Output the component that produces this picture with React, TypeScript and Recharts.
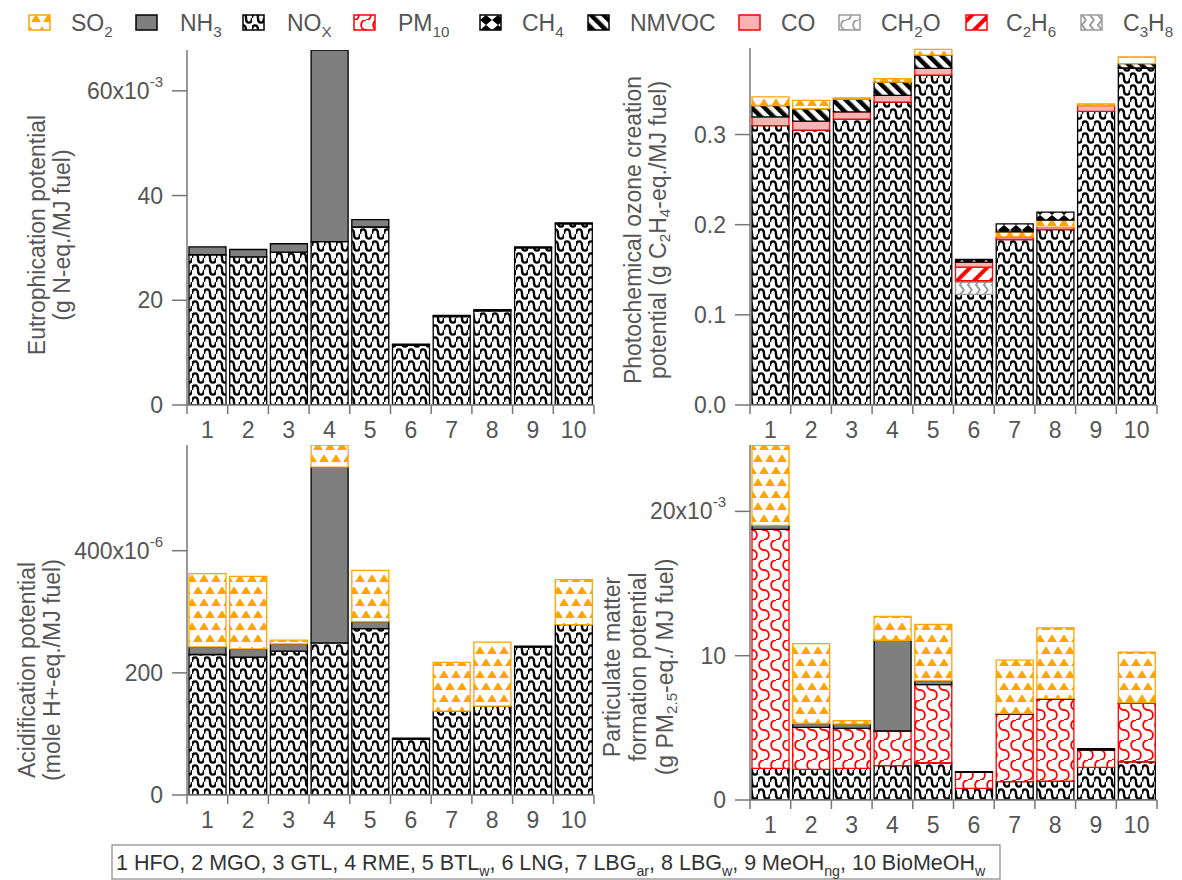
import React from 'react'
import { BarChart, Bar, XAxis, YAxis } from 'recharts'

const fuels = ['1', '2', '3', '4', '5', '6', '7', '8', '9', '10']

// eutrophication, 10^-3 g N-eq./MJ fuel
const eutNOx = [28.7, 28.3, 29.2, 31.2, 34.0, 11.4, 16.9, 18.0, 30.0, 34.6]
const eutNH3 = [1.5, 1.4, 1.6, 36.6, 1.4, 0.2, 0.2, 0.2, 0.2, 0.2]

// photochemical ozone creation, g C2H4-eq./MJ fuel
const pocpNOx = [0.31, 0.305, 0.317, 0.336, 0.366, 0.1226, 0.1836, 0.1947, 0.3258, 0.3738]
const pocpC3H8 = [0, 0, 0, 0, 0, 0.0137, 0, 0, 0, 0]
const pocpCH2O = [0, 0, 0, 0, 0, 0.0015, 0, 0, 0, 0]
const pocpC2H6 = [0, 0, 0, 0, 0, 0.0151, 0, 0, 0, 0]
const pocpCO = [0.0096, 0.0099, 0.0081, 0.0074, 0.0074, 0.0056, 0.003, 0.0026, 0.0063, 0]
const pocpNMVOC = [0.0126, 0.0137, 0.0141, 0.0148, 0.0148, 0, 0, 0, 0, 0.0048]
const pocpSO2 = [0.0096, 0.0092, 0.0015, 0.0037, 0.0063, 0, 0.0055, 0.0077, 0.0018, 0.0074]
const pocpCH4 = [0, 0, 0, 0, 0, 0.003, 0.0089, 0.0089, 0, 0]

// acidification, 10^-6 mole H+-eq./MJ fuel
const acNOx = [230, 225.6, 235.4, 249, 272.5, 91, 137.3, 145.5, 242, 279]
const acNH3 = [12.5, 13.6, 12, 287.8, 11.5, 2, 0, 0, 1.6, 0]
const acSO2 = [119.9, 118.8, 6, 36.5, 83.8, 0, 79.7, 104.7, 0, 73.7]

// particulate matter formation, 10^-3 g PM2.5-eq./MJ fuel
const pmNOx = [2.19, 2.12, 2.19, 2.38, 2.58, 0.81, 1.27, 1.31, 2.26, 2.65]
const pmPM10 = [16.56, 2.91, 2.77, 2.4, 5.42, 1.1, 4.68, 5.66, 1.2, 4.04]
const pmNH3 = [0.28, 0.27, 0.3, 6.29, 0.26, 0.06, 0.05, 0.05, 0.09, 0.05]
const pmSO2 = [5.54, 5.54, 0.23, 1.66, 3.9, 0, 3.69, 4.91, 0, 3.51]

const eutData = fuels.map((f, i) => ({ fuel: f, NOx: eutNOx[i], NH3: eutNH3[i] }))
const pocpData = fuels.map((f, i) => ({
  fuel: f, NOx: pocpNOx[i], C3H8: pocpC3H8[i], CH2O: pocpCH2O[i], C2H6: pocpC2H6[i],
  CO: pocpCO[i], NMVOC: pocpNMVOC[i], SO2: pocpSO2[i], CH4: pocpCH4[i],
}))
const acData = fuels.map((f, i) => ({ fuel: f, NOx: acNOx[i], NH3: acNH3[i], SO2: acSO2[i] }))
const pmData = fuels.map((f, i) => ({ fuel: f, NOx: pmNOx[i], PM10: pmPM10[i], NH3: pmNH3[i], SO2: pmSO2[i] }))

const AXIS = '#777'
const TXT = '#555'
const ORANGE = '#FFA500'
const RED = '#FF0000'
const GREY = '#9a9a9a'
const FONT = '"Liberation Sans", Arial, sans-serif'
const FS = 23
const PLOT_W = 407
const BAND = PLOT_W / 10

type Seg = [string, boolean?]

// text with subscripts
function SubText({ segs, fs, ...rest }: any) {
  let prev = false
  return (
    <text fontSize={fs} fontFamily={FONT} {...rest}>
      {segs.map(([t, s]: Seg, i: number) => {
        const dy = s && !prev ? fs * 0.28 : !s && prev ? -fs * 0.28 : 0
        prev = !!s
        return <tspan key={i} dy={dy} fontSize={s ? fs * 0.66 : fs}>{t}</tspan>
      })}
    </text>
  )
}

const series: Record<string, { fill: string, stroke: string }> = {
  SO2: { fill: 'url(#pSO2)', stroke: ORANGE },
  NH3: { fill: '#7f7f7f', stroke: '#000' },
  NOx: { fill: 'url(#pNOx)', stroke: '#000' },
  PM10: { fill: 'url(#pPM10)', stroke: RED },
  CH4: { fill: 'url(#pCH4)', stroke: '#000' },
  NMVOC: { fill: 'url(#pNMVOC)', stroke: '#000' },
  CO: { fill: '#F6B3B3', stroke: RED },
  CH2O: { fill: 'url(#pCH2O)', stroke: GREY },
  C2H6: { fill: 'url(#pC2H6)', stroke: RED },
  C3H8: { fill: 'url(#pC3H8)', stroke: GREY },
}

const legend: { key: string, segs: Seg[], ix: number, tx: number }[] = [
  { key: 'SO2', segs: [['SO'], ['2', true]], ix: 29, tx: 71 },
  { key: 'NH3', segs: [['NH'], ['3', true]], ix: 136, tx: 180 },
  { key: 'NOx', segs: [['NO'], ['X', true]], ix: 243, tx: 287 },
  { key: 'PM10', segs: [['PM'], ['10', true]], ix: 354, tx: 398 },
  { key: 'CH4', segs: [['CH'], ['4', true]], ix: 480, tx: 522 },
  { key: 'NMVOC', segs: [['NMVOC']], ix: 588, tx: 630 },
  { key: 'CO', segs: [['CO']], ix: 739, tx: 781 },
  { key: 'CH2O', segs: [['CH'], ['2', true], ['O']], ix: 839, tx: 881 },
  { key: 'C2H6', segs: [['C'], ['2', true], ['H'], ['6', true]], ix: 966, tx: 1006 },
  { key: 'C3H8', segs: [['C'], ['3', true], ['H'], ['8', true]], ix: 1081, tx: 1123 },
]

function XTick(p: any) {
  const { x, y, payload, index } = p
  const h = BAND / 2
  return (
    <g>
      <line x1={x - h} x2={x - h} y1={y} y2={y + 9} stroke={AXIS} strokeWidth={1.5} />
      {index === fuels.length - 1 && <line x1={x + h} x2={x + h} y1={y} y2={y + 9} stroke={AXIS} strokeWidth={1.5} />}
      <text x={x} y={y + 25} textAnchor="middle" dominantBaseline="central" fontSize={FS} fill={TXT} fontFamily={FONT}>{payload.value}</text>
    </g>
  )
}

const yTick = (digits: number, top?: number, exp?: string) => (p: any) => {
  const { x, y, payload } = p
  const v = payload.value
  return (
    <g>
      <line x1={x - 15} x2={x} y1={y} y2={y} stroke={AXIS} strokeWidth={1.5} />
      <text x={x - 24} y={y} dominantBaseline="central" textAnchor="end" fontSize={FS} fill={TXT} fontFamily={FONT}>
        {v.toFixed(digits)}
        {exp && v === top && <>x10<tspan dy={-10} fontSize={15}>{exp}</tspan></>}
      </text>
    </g>
  )
}

const bars = (keys: string[]) => keys.map(k => (
  <Bar key={k} dataKey={k} stackId="s" fill={series[k].fill} stroke={series[k].stroke} strokeWidth={1.3} isAnimationActive={false} />
))

function Panel({ left, top, w, h, margin, data, domain, ticks, tick, keys }: any) {
  return (
    <div style={{ position: 'absolute', left, top }}>
      <BarChart width={w} height={h} data={data} margin={margin} barCategoryGap={2}>
        <XAxis dataKey="fuel" interval={0} height={1} tickSize={0} tickMargin={0} tickLine={false} tick={<XTick />} axisLine={{ stroke: AXIS, strokeWidth: 1.5 }} />
        <YAxis width={1} domain={domain} ticks={ticks} interval={0} allowDataOverflow tickSize={0} tickMargin={0} tickLine={false} tick={tick} axisLine={{ stroke: AXIS, strokeWidth: 1.5 }} />
        {bars(keys)}
      </BarChart>
    </div>
  )
}

function Title({ x, y, segs }: { x: number, y: number, segs: Seg[] }) {
  return <SubText segs={segs} fs={FS} fill={TXT} textAnchor="middle" dominantBaseline="central" transform={`translate(${x},${y}) rotate(-90)`} />
}

export default function App() {
  return (
    <div style={{ position: 'absolute', left: 0, top: 0, width: 1182, height: 880, background: '#fff', overflow: 'hidden' }}>
      <svg width={1182} height={880} style={{ position: 'absolute', left: 0, top: 0 }}>
        <defs>
          <pattern id="pNOx" patternUnits="userSpaceOnUse" width={12} height={12}>
            <rect width={12} height={12} fill="#fff" />
            <path d="M0,6 C0,-0.2 6,-0.2 6,6 C6,12.2 12,12.2 12,6" fill="none" stroke="#000" strokeWidth={2.4} />
          </pattern>
          <pattern id="pSO2" patternUnits="userSpaceOnUse" width={12} height={24}>
            <rect width={12} height={24} fill="#fff" />
            <path d="M1.8,9.5 L6,3 L10.2,9.5 Z M-4.2,21.5 L0,15 L4.2,21.5 Z M7.8,21.5 L12,15 L16.2,21.5 Z" fill={ORANGE} stroke={ORANGE} strokeLinejoin="round" />
          </pattern>
          <pattern id="pPM10" patternUnits="userSpaceOnUse" width={12} height={20}>
            <rect width={12} height={20} fill="#fff" />
            <path d="M6,0 C-0.5,0 -0.5,10 6,10 C12.5,10 12.5,20 6,20" fill="none" stroke={RED} strokeWidth={1.8} />
          </pattern>
          <pattern id="pCH2O" patternUnits="userSpaceOnUse" width={12} height={20}>
            <rect width={12} height={20} fill="#fff" />
            <path d="M6,0 C-0.5,0 -0.5,10 6,10 C12.5,10 12.5,20 6,20" fill="none" stroke={GREY} strokeWidth={1.8} />
          </pattern>
          <pattern id="pCH4" patternUnits="userSpaceOnUse" width={12} height={10}>
            <rect width={12} height={10} fill="#fff" />
            <path d="M0,0 L12,0 L6,5 Z M0,10 L12,10 L6,5 Z" fill="#000" />
          </pattern>
          <pattern id="pNMVOC" patternUnits="userSpaceOnUse" width={9} height={9} patternTransform="rotate(-45)">
            <rect width={9} height={9} fill="#fff" />
            <rect width={4.5} height={9} fill="#000" />
          </pattern>
          <pattern id="pC2H6" patternUnits="userSpaceOnUse" width={12} height={12} patternTransform="rotate(45)">
            <rect width={12} height={12} fill="#fff" />
            <rect width={4} height={12} fill={RED} />
          </pattern>
          <pattern id="pC3H8" patternUnits="userSpaceOnUse" width={8} height={10}>
            <rect width={8} height={10} fill="#fff" />
            <path d="M6,0 L2,5 L6,10" fill="none" stroke={GREY} strokeWidth={2} />
          </pattern>
        </defs>

        {legend.map(l => (
          <g key={l.key}>
            <rect x={l.ix} y={15} width={21} height={15} fill={series[l.key].fill} stroke={series[l.key].stroke} strokeWidth={1.5} />
            <SubText segs={l.segs} fs={FS} x={l.tx} y={31} fill={TXT} />
          </g>
        ))}

        <Title x={37} y={235} segs={[['Eutrophication potential']]} />
        <Title x={62} y={235} segs={[['(g N-eq./MJ fuel)']]} />
        <Title x={633} y={230} segs={[['Photochemical ozone creation']]} />
        <Title x={658} y={230} segs={[['potential (g C'], ['2', true], ['H'], ['4', true], ['-eq./MJ fuel)']]} />
        <Title x={27} y={670} segs={[['Acidification potential']]} />
        <Title x={52} y={670} segs={[['(mole H+-eq./MJ fuel)']]} />
        <Title x={612} y={667} segs={[['Particulate matter']]} />
        <Title x={638} y={667} segs={[['formation potential']]} />
        <Title x={665} y={667} segs={[['(g PM'], ['2.5', true], ['-eq./ MJ fuel)']]} />

        <rect x={112} y={845} width={888} height={34} fill="none" stroke="#888" strokeWidth={1.2} />
        <SubText x={116} y={870} fs={21.5} fill="#333"
          segs={[['1 HFO, 2 MGO, 3 GTL, 4 RME, 5 BTL'], ['w', true], [', 6 LNG, 7 LBG'], ['ar', true], [', 8 LBG'], ['w', true], [', 9 MeOH'], ['ng', true], [', 10 BioMeOH'], ['w', true]]} />
      </svg>

      <Panel left={0} top={0} w={600} h={445} margin={{ top: 50, right: 6, left: 186, bottom: 39 }}
        data={eutData} domain={[0, 67.8]} ticks={[0, 20, 40, 60]} tick={yTick(0, 60, '-3')} keys={['NOx', 'NH3']} />
      <Panel left={590} top={0} w={592} h={445} margin={{ top: 48, right: 25, left: 159, bottom: 39 }}
        data={pocpData} domain={[0, 0.396]} ticks={[0, 0.1, 0.2, 0.3]} tick={yTick(1)}
        keys={['NOx', 'C3H8', 'CH2O', 'C2H6', 'CO', 'NMVOC', 'SO2', 'CH4']} />
      <Panel left={0} top={440} w={600} h={400} margin={{ top: 5, right: 6, left: 186, bottom: 44 }}
        data={acData} domain={[0, 573]} ticks={[0, 200, 400]} tick={yTick(0, 400, '-6')} keys={['NOx', 'NH3', 'SO2']} />
      <Panel left={590} top={440} w={592} h={400} margin={{ top: 5, right: 25, left: 159, bottom: 39 }}
        data={pmData} domain={[0, 24.6]} ticks={[0, 10, 20]} tick={yTick(0, 20, '-3')} keys={['NOx', 'PM10', 'NH3', 'SO2']} />
    </div>
  )
}
